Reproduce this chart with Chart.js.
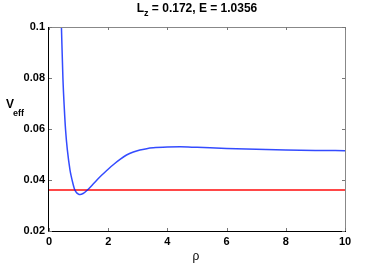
<!DOCTYPE html>
<html>
<head>
<meta charset="utf-8">
<script src="https://cdn.jsdelivr.net/npm/chart.js@4/dist/chart.umd.min.js"></script>
<style>
html,body{margin:0;padding:0;background:#fff;}
#wrap{width:382px;height:263px;position:relative;}
</style>
</head>
<body>
<div id="wrap"><canvas id="c" width="382" height="263"></canvas></div>
<script>
// ---- data ----
const rho  = [0.42, 0.47, 0.52, 0.56, 0.62, 0.71, 0.75, 0.80, 0.86, 0.92, 0.98, 1.05, 1.15, 1.30, 1.50, 1.70, 1.95, 2.17, 2.40, 2.62, 2.85, 3.07, 3.30, 3.52, 4.00, 4.43, 5.00, 6.00, 7.00, 8.00, 9.00, 10.0];
const vEff = [0.100, 0.080, 0.0675, 0.0596, 0.0518, 0.0439, 0.0415, 0.0390, 0.0365, 0.0352, 0.0346, 0.0343, 0.0347, 0.0361, 0.0385, 0.0410, 0.0437, 0.0460, 0.0481, 0.0498, 0.0510, 0.0518, 0.0523, 0.0526, 0.0529, 0.0530, 0.0528, 0.0524, 0.0521, 0.0518, 0.0516, 0.0515];
const energyRho = [0, 10];
const energyLevel = [0.0361, 0.0361];
const xTicks = [0, 2, 4, 6, 8, 10];
const yTicks = [0.02, 0.04, 0.06, 0.08, 0.1];
const yTickLabels = ['0.02', '0.04', '0.06', '0.08', '0.1'];
const titleMain = 'L';
const titleSub = 'z';
const titleRest = ' = 0.172, E = 1.0356';
const yLabelMain = 'V';
const yLabelSub = 'eff';
const xLabel = 'ρ';

const FONT = '"Liberation Sans", Arial, Helvetica, sans-serif';

const decor = {
  id: 'decor',
  afterDraw(chart) {
    const ctx = chart.ctx;
    const a = chart.chartArea;
    const xs = chart.scales.x, ys = chart.scales.y;
    ctx.save();
    // box
    ctx.lineWidth = 1;
    ctx.strokeStyle = '#888';
    ctx.beginPath();
    ctx.moveTo(a.left, a.top + 0.5); ctx.lineTo(a.right + 0.5, a.top + 0.5);
    ctx.moveTo(a.right + 0.5, a.top); ctx.lineTo(a.right + 0.5, a.bottom);
    ctx.stroke();
    ctx.strokeStyle = '#000';
    ctx.beginPath();
    ctx.moveTo(a.left - 0.5, a.top); ctx.lineTo(a.left - 0.5, a.bottom + 0.5);
    ctx.moveTo(a.left - 0.5, a.bottom + 0.5); ctx.lineTo(a.right + 1, a.bottom + 0.5);
    ctx.stroke();
    // inward ticks
    ctx.strokeStyle = '#777';
    ctx.beginPath();
    xTicks.forEach(v => {
      const px = Math.round(xs.getPixelForValue(v)) + 0.5;
      ctx.moveTo(px, a.bottom); ctx.lineTo(px, a.bottom - 3);
      ctx.moveTo(px, a.top); ctx.lineTo(px, a.top + 3);
    });
    yTicks.forEach(v => {
      const py = Math.round(ys.getPixelForValue(v)) + 0.5;
      ctx.moveTo(a.left, py); ctx.lineTo(a.left + 3, py);
      ctx.moveTo(a.right, py); ctx.lineTo(a.right - 3, py);
    });
    ctx.stroke();
    // title
    ctx.fillStyle = '#000';
    ctx.textBaseline = 'alphabetic';
    ctx.textAlign = 'left';
    const fMain = 'bold 12px ' + FONT, fSub = 'bold 9px ' + FONT;
    ctx.font = fMain; const w1 = ctx.measureText(titleMain).width, w3 = ctx.measureText(titleRest).width;
    ctx.font = fSub; const w2 = ctx.measureText(titleSub).width;
    let tx = (a.left + a.right) / 2 - (w1 + w2 + w3) / 2;
    const ty = 12;
    ctx.font = fMain; ctx.fillText(titleMain, tx, ty); tx += w1;
    ctx.font = fSub; ctx.fillText(titleSub, tx, ty + 4); tx += w2;
    ctx.font = fMain; ctx.fillText(titleRest, tx, ty);
    // y label
    ctx.font = 'bold 12px ' + FONT;
    ctx.fillText(yLabelMain, 6, 108);
    const wv = ctx.measureText(yLabelMain).width;
    ctx.font = 'bold 9px ' + FONT;
    ctx.fillText(yLabelSub, 6 + wv - 1, 116);
    // x label
    ctx.font = '12px ' + FONT;
    ctx.textAlign = 'center';
    ctx.textBaseline = 'middle';
    ctx.fillText(xLabel, (a.left + a.right) / 2 - 1, 257);
    ctx.restore();
  }
};

new Chart(document.getElementById('c'), {
  type: 'line',
  data: {
    datasets: [
      {
        data: rho.map((r, i) => ({x: r, y: vEff[i]})),
        borderColor: 'rgba(0,30,255,0.8)',
        borderWidth: 1.5,
        pointRadius: 0,
        cubicInterpolationMode: 'monotone',
        fill: false
      },
      {
        data: energyRho.map((r, i) => ({x: r, y: energyLevel[i]})),
        borderColor: 'rgba(255,0,0,0.72)',
        borderWidth: 2,
        pointRadius: 0,
        fill: false
      }
    ]
  },
  options: {
    responsive: false,
    animation: false,
    devicePixelRatio: 1,
    layout: {padding: {top: 27, right: 37, left: 0, bottom: 0}},
    plugins: {legend: {display: false}, tooltip: {enabled: false}, title: {display: false}},
    scales: {
      x: {
        type: 'linear', min: 0, max: 10,
        afterBuildTicks: s => { s.ticks = xTicks.map(v => ({value: v})); },
        afterFit: s => { s.height = 32; },
        grid: {display: false, drawTicks: false},
        border: {display: false},
        ticks: {padding: 4, color: '#000', font: {family: FONT, size: 11, weight: 'bold'}, maxRotation: 0, autoSkip: false}
      },
      y: {
        type: 'linear', min: 0.02, max: 0.1,
        afterBuildTicks: s => { s.ticks = yTicks.map(v => ({value: v})); },
        afterFit: s => { s.width = 49; },
        grid: {display: false, drawTicks: false},
        border: {display: false},
        ticks: {
          padding: 4, color: '#000', font: {family: FONT, size: 11, weight: 'bold'}, autoSkip: false,
          callback: (v) => { const i = yTicks.findIndex(t => Math.abs(t - v) < 1e-9); return i >= 0 ? yTickLabels[i] : ''; }
        }
      }
    }
  },
  plugins: [decor]
});
</script>
</body>
</html>
